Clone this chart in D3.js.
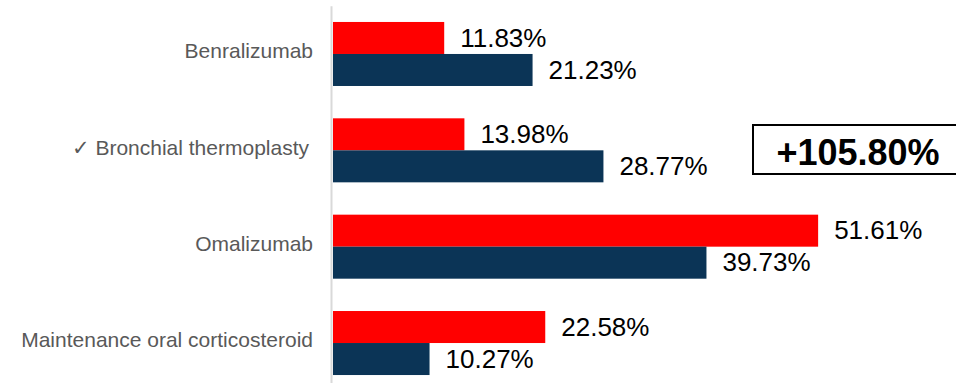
<!DOCTYPE html>
<html>
<head>
<meta charset="utf-8">
<script src="https://cdn.jsdelivr.net/npm/d3@7"></script>
<style>
  body { margin: 0; background: #fff; }
  svg { display: block; font-family: "Liberation Sans", Arial, sans-serif; }
</style>
</head>
<body>
<div id="chart"></div>
<script>
// data
var categories = ["Benralizumab", "\u2713 Bronchial thermoplasty", "Omalizumab", "Maintenance oral corticosteroid"];
var series = ["red", "navy"];
var redValues = [11.83, 13.98, 51.61, 22.58];
var navyValues = [21.23, 28.77, 39.73, 10.27];
var calloutText = "+105.80%";

var width = 956, height = 383;
var colors = { red: "#ff0000", navy: "#0b3456" };

var svg = d3.select("#chart").append("svg")
    .attr("width", width)
    .attr("height", height);

var x = d3.scaleLinear().domain([0, 60]).range([333, 897]);

var y = d3.scaleBand()
    .domain(categories)
    .range([5.8, 391.2])
    .paddingInner(0.3356)
    .paddingOuter(0.1678);

var ySub = d3.scaleBand().domain(series).range([0, y.bandwidth()]);

var rows = categories.map(function (c, i) {
    return { cat: c, vals: [["red", redValues[i]], ["navy", navyValues[i]]] };
});

// axis: only the vertical line and category names
var axis = svg.append("g")
    .attr("transform", "translate(331,0)")
    .call(d3.axisLeft(y).tickSize(0).tickPadding(18));
axis.select(".domain").attr("stroke", "#d9d9d9").attr("stroke-width", 2);
axis.selectAll("text")
    .attr("fill", "#595959")
    .style("font-size", "21px")
    .style("font-family", "'Liberation Sans', Arial, sans-serif")
    .attr("dy", "0.2em");
// the thermoplasty label sits a little further left in the original
axis.selectAll(".tick text")
    .filter(function (d) { return d === categories[1]; })
    .attr("x", -22);

var groups = svg.selectAll(".grp")
    .data(rows)
    .enter()
    .append("g")
    .attr("class", "grp")
    .attr("transform", function (d) { return "translate(0," + y(d.cat) + ")"; });

groups.selectAll("rect")
    .data(function (d) { return d.vals; })
    .enter()
    .append("rect")
    .attr("x", x(0))
    .attr("y", function (d) { return ySub(d[0]); })
    .attr("width", function (d) { return x(d[1]) - x(0); })
    .attr("height", ySub.bandwidth())
    .attr("fill", function (d) { return colors[d[0]]; });

groups.selectAll("text")
    .data(function (d) { return d.vals; })
    .enter()
    .append("text")
    .attr("x", function (d) { return x(d[1]) + 16; })
    .attr("y", function (d) { return ySub(d[0]) + ySub.bandwidth() / 2; })
    .attr("dy", "0.33em")
    .attr("fill", "#000")
    .style("font-size", "26px")
    .text(function (d) { return d[1].toFixed(2) + "%"; });

// callout box
var box = svg.append("g");
box.append("rect")
    .attr("x", 753)
    .attr("y", 125)
    .attr("width", 220)
    .attr("height", 49)
    .attr("fill", "#fff")
    .attr("stroke", "#000")
    .attr("stroke-width", 2);
box.append("text")
    .attr("x", 858)
    .attr("y", 152)
    .attr("text-anchor", "middle")
    .attr("dy", "0.35em")
    .style("font-size", "36px")
    .style("font-weight", "bold")
    .text(calloutText);
</script>
</body>
</html>
